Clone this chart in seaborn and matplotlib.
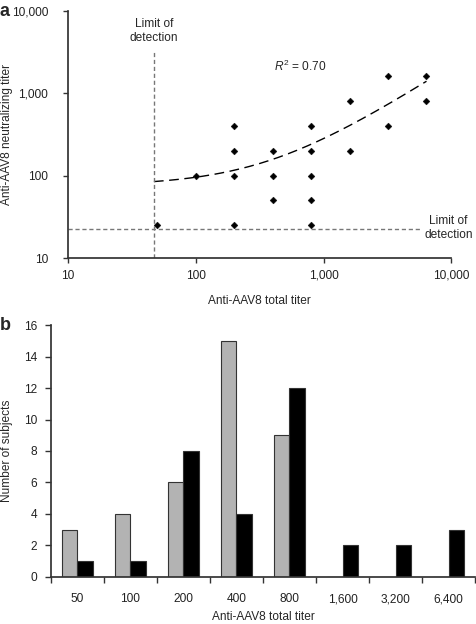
import matplotlib.pyplot as plt
import numpy as np
import pandas as pd
import seaborn as sns
from matplotlib.ticker import FixedLocator, FuncFormatter, NullFormatter

# panel a: anti-AAV8 total titer vs neutralizing titer
total_titer = [50, 100, 200, 200, 200, 200, 400, 400, 400,
               800, 800, 800, 800, 800, 1600, 1600, 3200, 3200, 6400, 6400]
neutralizing_titer = [25, 100, 25, 100, 200, 400, 50, 100, 200,
                      25, 50, 100, 200, 400, 200, 800, 400, 1600, 800, 1600]
# linear fit (y = a + b x)
fit_intercept = 75
fit_slope = 0.207
fit_range = (47, 6400)
lod_total = 47
lod_neutralizing = 22.5

# panel b: histogram of subjects per total titer
titer_bins = ["50", "100", "200", "400", "800", "1,600", "3,200", "6,400"]
count_gray = [3, 4, 6, 15, 9, 0, 0, 0]
count_black = [1, 1, 8, 4, 12, 2, 2, 3]

FS = 8.6

sns.set_theme(style="ticks")
plt.rcParams["font.family"] = ["Liberation Sans", "DejaVu Sans"]
plt.rcParams["mathtext.fontset"] = "custom"
plt.rcParams["mathtext.it"] = "Liberation Sans:italic"
plt.rcParams["mathtext.rm"] = "Liberation Sans"
plt.rcParams["font.size"] = FS
plt.rcParams["axes.edgecolor"] = "#333333"
plt.rcParams["xtick.color"] = "#333333"
plt.rcParams["ytick.color"] = "#333333"
plt.rcParams["xtick.labelcolor"] = "#222222"
plt.rcParams["ytick.labelcolor"] = "#222222"

fig = plt.figure(figsize=(4.76, 6.24), dpi=100)
ax_a = fig.add_axes([0.143, 0.5865, 0.805, 0.396])
ax_b = fig.add_axes([0.107, 0.0758, 0.891, 0.403])

comma = FuncFormatter(lambda v, p: "{:,.0f}".format(v))

# ---- panel a
scat = pd.DataFrame({"total": total_titer, "neut": neutralizing_titer})
sns.scatterplot(data=scat, x="total", y="neut", ax=ax_a, marker="D",
                color="black", s=12, edgecolor="black", linewidth=0.3, zorder=3)
xf = np.geomspace(fit_range[0], fit_range[1], 200)
ax_a.plot(xf, fit_intercept + fit_slope * xf, color="black", lw=1,
          linestyle=(0, (7, 4)))
ax_a.plot([lod_total, lod_total], [10, 3400], color="#777777", lw=1,
          linestyle=(0, (3, 2)))
ax_a.plot([10, 5700], [lod_neutralizing, lod_neutralizing], color="#777777",
          lw=1, linestyle=(0, (3, 2)))
ax_a.set_xscale("log")
ax_a.set_yscale("log")
ax_a.set_xlim(10, 10000)
ax_a.set_ylim(10, 10000)
ax_a.xaxis.set_major_locator(FixedLocator([10, 100, 1000, 10000]))
ax_a.yaxis.set_major_locator(FixedLocator([10, 100, 1000, 10000]))
ax_a.xaxis.set_major_formatter(comma)
ax_a.yaxis.set_major_formatter(comma)
ax_a.xaxis.set_minor_formatter(NullFormatter())
ax_a.yaxis.set_minor_formatter(NullFormatter())
ax_a.tick_params(which="minor", length=0)
ax_a.tick_params(which="major", length=3.5, width=1, labelsize=FS)
ax_a.tick_params(axis="y", pad=11)
ax_a.tick_params(axis="x", pad=5)
ax_a.set_xlabel("Anti-AAV8 total titer", fontsize=FS)
ax_a.set_ylabel("Anti-AAV8 neutralizing titer", fontsize=FS)
ax_a.xaxis.set_label_coords(0.5, -0.15)
ax_a.yaxis.set_label_coords(-0.143, 0.5)
ax_a.text(lod_total, 4000, "Limit of\ndetection", ha="center", va="bottom",
          fontsize=FS, linespacing=1.2)
ax_a.text(9500, lod_neutralizing * 1.03, "Limit of\ndetection", ha="center",
          va="center", fontsize=FS, linespacing=1.2, clip_on=False)
ax_a.text(660, 2100, "$R^2$ = 0.70", ha="center", va="center", fontsize=FS)
sns.despine(ax=ax_a)
fig.text(0.0, 0.982, "a", fontsize=13, fontweight="bold", va="center")

# ---- panel b
hist = pd.DataFrame({
    "titer": titer_bins * 2,
    "count": count_gray + count_black,
    "group": ["gray"] * len(titer_bins) + ["black"] * len(titer_bins),
})
sns.barplot(data=hist, x="titer", y="count", hue="group", ax=ax_b,
            palette={"gray": "#b3b3b3", "black": "black"}, width=0.57,
            gap=0, edgecolor="#333333", linewidth=0.8, legend=False)
ax_b.set_xlim(-0.5, len(titer_bins) - 0.5)
ax_b.set_ylim(0, 16)
ax_b.set_yticks(range(0, 17, 2))
ax_b.set_xticks(np.arange(-0.5, len(titer_bins), 1.0), minor=True)
ax_b.tick_params(axis="x", which="major", length=0, pad=12, labelsize=FS)
ax_b.tick_params(axis="x", which="minor", length=4, width=1)
ax_b.tick_params(axis="y", length=4, width=1, labelsize=FS, pad=6)
ax_b.set_xlabel("Anti-AAV8 total titer", fontsize=FS)
ax_b.set_ylabel("Number of subjects", fontsize=FS)
ax_b.xaxis.set_label_coords(0.5, -0.138)
ax_b.yaxis.set_label_coords(-0.089, 0.5)
sns.despine(ax=ax_b)
fig.text(0.0, 0.478, "b", fontsize=13, fontweight="bold", va="center")

fig.savefig("out.png", dpi=100)
